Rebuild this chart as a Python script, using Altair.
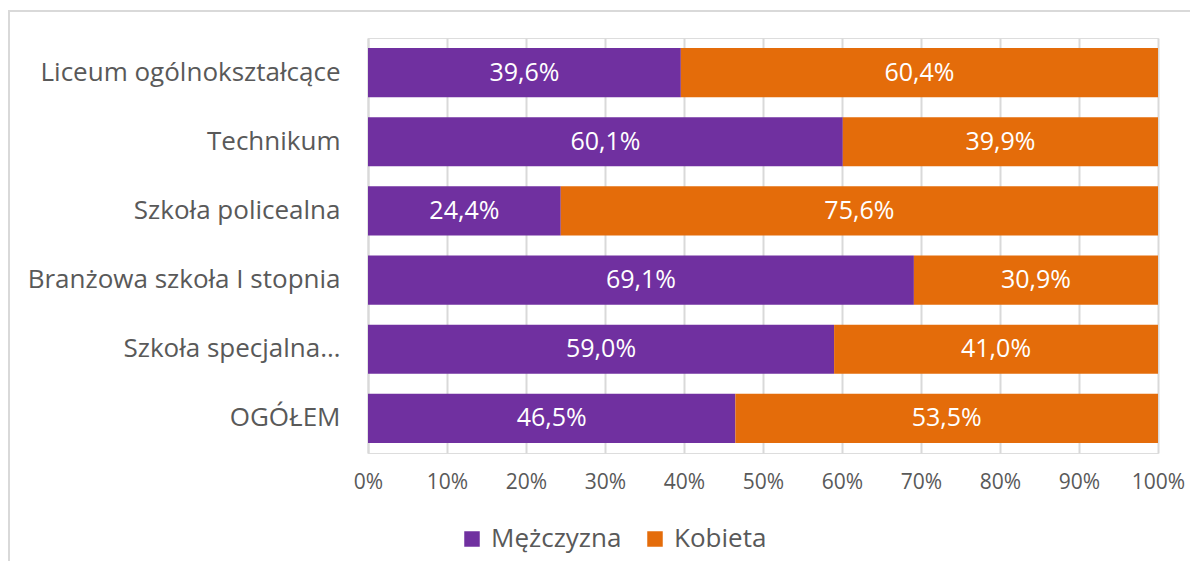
import altair as alt
import pandas as pd

categories = [
    "Liceum ogólnokształcące",
    "Technikum",
    "Szkoła policealna",
    "Branżowa szkoła I stopnia",
    "Szkoła specjalna…",
    "OGÓŁEM",
]
series = ["Mężczyzna", "Kobieta"]
men = [39.6, 60.1, 24.4, 69.1, 59.0, 46.5]
women = [60.4, 39.9, 75.6, 30.9, 41.0, 53.5]
colors = ["#7030A0", "#E46C0A"]
x_ticks = [0, 10, 20, 30, 40, 50, 60, 70, 80, 90, 100]

rows = []
for c, m, w in zip(categories, men, women):
    rows.append({"cat": c, "series": series[0], "idx": 0, "value": m})
    rows.append({"cat": c, "series": series[1], "idx": 1, "value": w})
df = pd.DataFrame(rows)

FONT = "Open Sans"
TXT = "#595959"
GRID = "#d9d9d9"

base = alt.Chart(df).transform_stack(
    stack="value", groupby=["cat"], as_=["x0", "x1"],
    sort=[alt.SortField("idx", order="ascending")]
).transform_calculate(
    mid="(datum.x0 + datum.x1) / 2",
    lab="replace(format(datum.value, '.1f'), '.', ',') + '%'"
)

y_enc = alt.Y(
    "cat:N", sort=categories, title=None,
    scale=alt.Scale(paddingInner=0.29, paddingOuter=0.145),
    axis=alt.Axis(labelFont=FONT, labelFontSize=26, labelColor=TXT,
                  labelPadding=28, ticks=False, domain=True,
                  domainColor=GRID, domainWidth=2, labelLimit=400),
)

bars = base.mark_bar().encode(
    x=alt.X("x0:Q", scale=alt.Scale(domain=[0, 100], nice=False), title=None,
            axis=alt.Axis(values=x_ticks, labelExpr="datum.value + '%'",
                          labelFont=FONT, labelFontSize=21, labelColor=TXT,
                          labelFlush=False, labelBound=False, labelOverlap=False,
                          labelPadding=18, ticks=False, domain=False,
                          grid=True, gridColor=GRID, gridWidth=2)),
    x2="x1:Q",
    y=y_enc,
    color=alt.Color("series:N", sort=series,
                    scale=alt.Scale(domain=series, range=colors),
                    legend=alt.Legend(title=None, orient="none", direction="horizontal",
                                      legendX=91, legendY=488,
                                      symbolType="square", symbolSize=240,
                                      symbolStrokeWidth=0, symbolOpacity=1,
                                      labelFont=FONT, labelFontSize=26, labelColor=TXT,
                                      labelOffset=6, columnPadding=20)),
    order=alt.Order("idx:Q"),
)

texts = base.mark_text(color="white", font=FONT, fontSize=25, baseline="middle").encode(
    x="mid:Q",
    y=alt.Y("cat:N", sort=categories),
    text="lab:N",
)

border_top = alt.Chart(pd.DataFrame({"a": [0]})).mark_rule(color=GRID, strokeWidth=2).encode(
    x=alt.value(-360), x2=alt.value(840), y=alt.value(-27)
)
border_left = alt.Chart(pd.DataFrame({"a": [0]})).mark_rule(color=GRID, strokeWidth=2).encode(
    x=alt.value(-359), y=alt.value(-27), y2=alt.value(540)
)

chart = alt.layer(bars, texts, border_top, border_left).properties(
    width=790, height=415,
    autosize=alt.AutoSizeParams(type="none"),
    padding={"left": 360, "top": 30, "right": 32, "bottom": 108},
).configure_view(stroke=None).configure(background="white")

chart.save("out.html", embed_options={"renderer": "svg", "actions": False})
